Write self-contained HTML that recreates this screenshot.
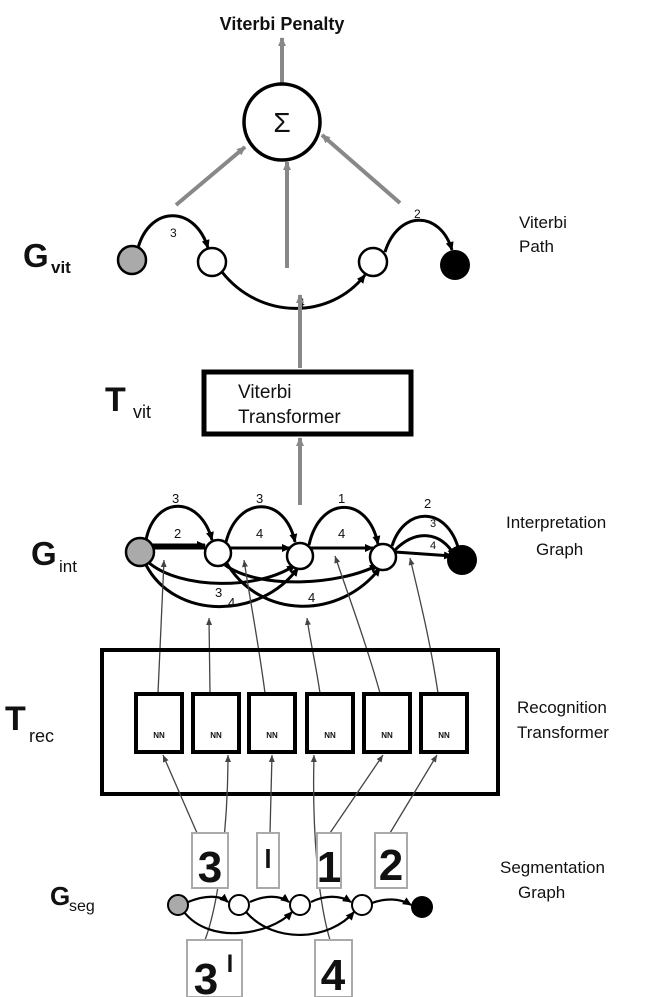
<!DOCTYPE html>
<html><head><meta charset="utf-8"><style>
html,body{margin:0;padding:0;background:#fff;}
svg{display:block;}
text{font-family:"Liberation Sans",sans-serif;fill:#111;}
</style></head><body>
<svg width="655" height="997" viewBox="0 0 655 997" xmlns="http://www.w3.org/2000/svg">
<defs>
<marker id="ga" markerWidth="10" markerHeight="10" refX="8" refY="5" orient="auto" markerUnits="userSpaceOnUse"><path d="M0,1 L9,5 L0,9 z" fill="#888"/></marker>
<marker id="ba" markerWidth="10" markerHeight="10" refX="8" refY="5" orient="auto" markerUnits="userSpaceOnUse"><path d="M0,1 L9,5 L0,9 z" fill="#000"/></marker>
<marker id="ta" markerWidth="8" markerHeight="8" refX="7" refY="4" orient="auto" markerUnits="userSpaceOnUse"><path d="M0,1 L7,4 L0,7 z" fill="#444"/></marker>
</defs>

<text x="282" y="30" font-size="18" font-weight="bold" text-anchor="middle">Viterbi Penalty</text>
<line x1="282" y1="84" x2="282" y2="38" stroke="#888" stroke-width="4" marker-end="url(#ga)"/>
<circle cx="282" cy="122" r="38" fill="#fff" stroke="#000" stroke-width="3.5"/>
<text x="282" y="132" font-size="28" text-anchor="middle" font-family="Liberation Serif,serif">Σ</text>
<line x1="176" y1="205" x2="245" y2="147" stroke="#888" stroke-width="4" marker-end="url(#ga)"/>
<line x1="287" y1="268" x2="287" y2="162" stroke="#888" stroke-width="4" marker-end="url(#ga)"/>
<line x1="400" y1="203" x2="322" y2="135" stroke="#888" stroke-width="4" marker-end="url(#ga)"/>

<text x="23" y="267" font-size="33" font-weight="bold">G</text>
<text x="51" y="273" font-size="17" font-weight="bold">vit</text>
<text x="519" y="228" font-size="17">Viterbi</text>
<text x="519" y="252" font-size="17">Path</text>
<path d="M138,248 C150,205 195,205 208,248" fill="none" stroke="#000" stroke-width="3" marker-end="url(#ba)"/>
<text x="170" y="237" font-size="12" fill="#777">3</text>
<path d="M222,272 C260,320 330,320 365,275" fill="none" stroke="#000" stroke-width="3" marker-end="url(#ba)"/>
<text x="298" y="307" font-size="12" fill="#555">4</text>
<path d="M385,252 C398,210 440,210 452,250" fill="none" stroke="#000" stroke-width="3" marker-end="url(#ba)"/>
<text x="414" y="218" font-size="12" fill="#555">2</text>
<circle cx="132" cy="260" r="14" fill="#aaa" stroke="#000" stroke-width="2.5"/>
<circle cx="212" cy="262" r="14" fill="#fff" stroke="#000" stroke-width="2.5"/>
<circle cx="373" cy="262" r="14" fill="#fff" stroke="#000" stroke-width="2.5"/>
<circle cx="455" cy="265" r="15" fill="#000"/>
<line x1="300" y1="368" x2="300" y2="295" stroke="#888" stroke-width="4" marker-end="url(#ga)"/>

<text x="105" y="411" font-size="34" font-weight="bold">T</text>
<text x="133" y="418" font-size="18">vit</text>
<rect x="204" y="372" width="207" height="62" fill="#fff" stroke="#000" stroke-width="5"/>
<text x="238" y="398" font-size="19" fill="#333">Viterbi</text>
<text x="238" y="423" font-size="19" fill="#333">Transformer</text>
<line x1="300" y1="505" x2="300" y2="438" stroke="#888" stroke-width="4" marker-end="url(#ga)"/>

<text x="31" y="565" font-size="33" font-weight="bold">G</text>
<text x="59" y="572" font-size="17">int</text>
<text x="506" y="528" font-size="17">Interpretation</text>
<text x="536" y="555" font-size="17">Graph</text>
<g fill="none" stroke="#000" stroke-width="3">
<path d="M146,540 C155,495 200,495 212,540" marker-end="url(#ba)"/>
<path d="M150,545 L205,545" marker-end="url(#ba)"/>
<path d="M226,542 C238,495 285,495 295,542" marker-end="url(#ba)"/>
<path d="M150,548 L290,548" marker-end="url(#ba)"/>
<path d="M309,545 C320,495 368,495 378,544" marker-end="url(#ba)"/>
<path d="M230,548 L373,548" marker-end="url(#ba)"/>
<path d="M392,546 C405,505 450,505 460,555" marker-end="url(#ba)"/>
<path d="M395,550 C415,530 440,530 455,556" marker-end="url(#ba)"/>
<path d="M395,552 L452,556" marker-end="url(#ba)"/>
<path d="M148,562 C180,590 260,590 295,565" marker-end="url(#ba)"/>
<path d="M146,565 C175,620 260,620 298,568" marker-end="url(#ba)"/>
<path d="M225,565 C260,590 340,585 378,565" marker-end="url(#ba)"/>
<path d="M226,562 C260,620 340,620 380,568" marker-end="url(#ba)"/>
</g>
<g font-size="13" fill="#333">
<text x="172" y="503">3</text><text x="174" y="538">2</text>
<text x="256" y="503">3</text><text x="256" y="538">4</text>
<text x="338" y="503">1</text><text x="338" y="538">4</text>
<text x="424" y="508">2</text><text x="430" y="527" font-size="11">3</text><text x="430" y="549" font-size="11">4</text>
<text x="215" y="597">3</text><text x="228" y="607">4</text><text x="308" y="602">4</text>
</g>
<circle cx="140" cy="552" r="14" fill="#aaa" stroke="#000" stroke-width="2.5"/>
<circle cx="218" cy="553" r="13" fill="#fff" stroke="#000" stroke-width="2.5"/>
<circle cx="300" cy="556" r="13" fill="#fff" stroke="#000" stroke-width="2.5"/>
<circle cx="383" cy="557" r="13" fill="#fff" stroke="#000" stroke-width="2.5"/>
<circle cx="462" cy="560" r="15" fill="#000"/>

<g stroke="#444" stroke-width="1.3" fill="none" marker-end="url(#ta)">
<path d="M158,693 L164,560"/>
<path d="M210,693 L209,618"/>
<path d="M265,693 C258,640 250,600 244,560"/>
<path d="M320,693 C315,660 310,640 307,618"/>
<path d="M380,693 C365,640 350,600 335,556"/>
<path d="M438,693 C430,640 420,600 410,558"/>
</g>

<text x="5" y="730" font-size="34" font-weight="bold">T</text>
<text x="29" y="742" font-size="18">rec</text>
<text x="517" y="713" font-size="17">Recognition</text>
<text x="517" y="738" font-size="17">Transformer</text>
<rect x="102" y="650" width="396" height="144" fill="none" stroke="#000" stroke-width="4"/>
<g fill="#fff" stroke="#000" stroke-width="4">
<rect x="136" y="694" width="46" height="58"/>
<rect x="193" y="694" width="46" height="58"/>
<rect x="249" y="694" width="46" height="58"/>
<rect x="307" y="694" width="46" height="58"/>
<rect x="364" y="694" width="46" height="58"/>
<rect x="421" y="694" width="46" height="58"/>
</g>
<g font-size="8" font-weight="bold" text-anchor="middle" fill="#333">
<text x="159" y="738">NN</text><text x="216" y="738">NN</text><text x="272" y="738">NN</text>
<text x="330" y="738">NN</text><text x="387" y="738">NN</text><text x="444" y="738">NN</text>
</g>
<g stroke="#444" stroke-width="1.3" fill="none" marker-end="url(#ta)">
<path d="M197,833 L163,755"/>
<path d="M205,940 C220,900 228,820 228,755"/>
<path d="M270,833 L272,755"/>
<path d="M330,940 C318,900 312,830 314,755"/>
<path d="M330,833 L383,755"/>
<path d="M390,833 L437,755"/>
</g>

<text x="50" y="905" font-size="26" font-weight="bold">G</text>
<text x="69" y="911" font-size="16">seg</text>
<text x="500" y="873" font-size="17">Segmentation</text>
<text x="518" y="898" font-size="17">Graph</text>
<g fill="#fff" stroke="#aaa" stroke-width="2">
<rect x="192" y="833" width="36" height="55"/>
<rect x="257" y="833" width="22" height="55"/>
<rect x="317" y="833" width="24" height="55"/>
<rect x="375" y="833" width="32" height="55"/>
<rect x="187" y="940" width="55" height="57"/>
<rect x="315" y="940" width="37" height="57"/>
</g>
<g font-weight="bold" font-size="44" text-anchor="middle" fill="#000">
<text x="210" y="882">3</text>
<text x="268" y="868" font-size="26">l</text>
<text x="329" y="882">1</text>
<text x="391" y="880">2</text>
<text x="206" y="994">3</text><text x="230" y="972" font-size="24">l</text>
<text x="333" y="990">4</text>
</g>
<g fill="none" stroke="#000" stroke-width="2.2">
<path d="M188,902 C205,895 220,895 228,902" marker-end="url(#ba)"/>
<path d="M250,902 C265,895 280,895 289,902" marker-end="url(#ba)"/>
<path d="M311,902 C325,895 340,895 351,902" marker-end="url(#ba)"/>
<path d="M372,903 C385,898 400,898 411,905" marker-end="url(#ba)"/>
<path d="M184,912 C210,945 270,935 292,912" marker-end="url(#ba)"/>
<path d="M246,912 C275,945 330,940 354,912" marker-end="url(#ba)"/>
</g>
<circle cx="178" cy="905" r="10" fill="#aaa" stroke="#000" stroke-width="2"/>
<circle cx="239" cy="905" r="10" fill="#fff" stroke="#000" stroke-width="2"/>
<circle cx="300" cy="905" r="10" fill="#fff" stroke="#000" stroke-width="2"/>
<circle cx="362" cy="905" r="10" fill="#fff" stroke="#000" stroke-width="2"/>
<circle cx="422" cy="907" r="11" fill="#000"/>
</svg>
</body></html>
